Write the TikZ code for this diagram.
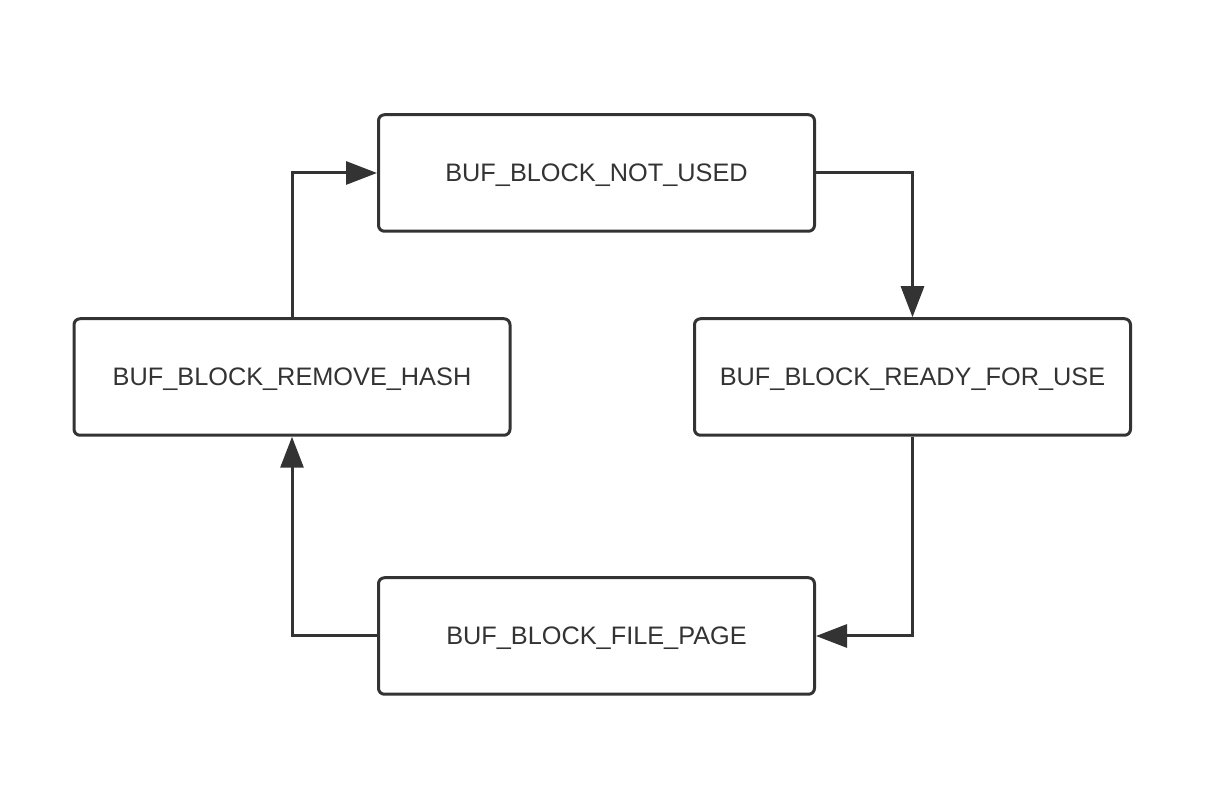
\documentclass[tikz,border=0pt]{standalone}
\usepackage{fontspec}
\setmainfont{Liberation Sans}
\usetikzlibrary{arrows.meta}

\definecolor{linegray}{HTML}{333333}

\begin{document}
\begin{tikzpicture}
    \tikzstyle{every node}=[font=\fontsize{14.4}{17}\selectfont, text=linegray]
    \tikzstyle{state}=[draw=linegray, line width=0.06cm, rounded corners=0.12cm,
        minimum width=8.72cm, minimum height=2.33cm, inner sep=0pt, text depth=0pt]
    \tikzstyle{flow}=[draw=linegray, line width=0.06cm,
        -{Triangle[length=0.62cm,width=0.46cm]}]
    \useasboundingbox (0,0) rectangle (24.24,15.96);

    \node[state] (notused) at (11.93,12.5) {BUF\_BLOCK\_NOT\_USED};
    \node[state] (ready) at (18.25,8.42) {BUF\_BLOCK\_READY\_FOR\_USE};
    \node[state] (filepage) at (11.93,3.24) {BUF\_BLOCK\_FILE\_PAGE};
    \node[state] (removehash) at (5.84,8.42) {BUF\_BLOCK\_REMOVE\_HASH};

    \draw[flow] (notused.east) -| (ready.north);
    \draw[flow] (ready.south) |- (filepage.east);
    \draw[flow] (filepage.west) -| (removehash.south);
    \draw[flow] (removehash.north) |- (notused.west);

\end{tikzpicture}
\end{document}
